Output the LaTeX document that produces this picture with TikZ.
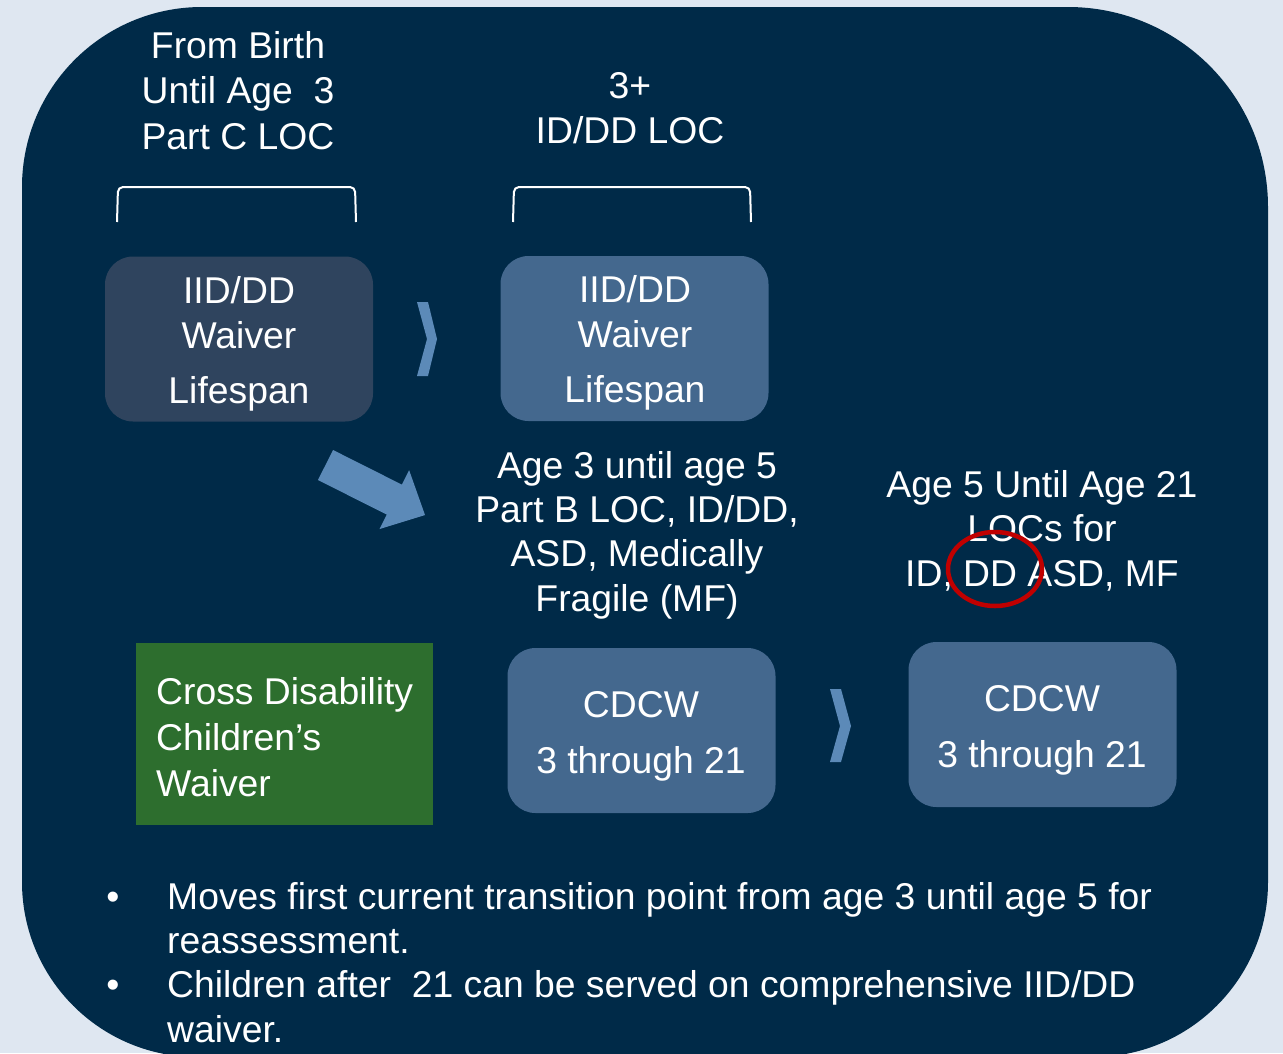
\documentclass[tikz,border=0pt]{standalone}
\usepackage{fontspec}
\setmainfont{Liberation Sans}
\usetikzlibrary{shapes.geometric}

\definecolor{pagebg}{RGB}{223,231,241}
\definecolor{navy}{RGB}{0,42,72}
\definecolor{slate}{RGB}{47,68,94}
\definecolor{steel}{RGB}{68,104,142}
\definecolor{chev}{RGB}{92,138,184}
\definecolor{leaf}{RGB}{45,110,46}
\definecolor{markred}{RGB}{192,0,0}

\begin{document}
\begin{tikzpicture}[x=1pt,y=-1pt,
  lbl/.style={text=white, font=\fontsize{37.3}{44}\selectfont, anchor=base, inner sep=0pt},
  lblw/.style={lbl, anchor=base west},
  box/.style={rounded corners=28pt, minimum width=268pt, minimum height=165pt, inner sep=0pt},
  chevron/.style={fill=chev, draw=none},
  bracketline/.style={draw=white, line width=2pt, rounded corners=5pt}]

\useasboundingbox (0,0) rectangle (1283,1053);
\fill[pagebg] (0,0) rectangle (1283,1053);

% dark panel with large rounded corners
\fill[navy] (22,187) arc[start angle=180,end angle=270,radius=180]
  -- (1068,7) arc[start angle=270,end angle=360,radius=200]
  -- (1268,882) arc[start angle=0,end angle=90,radius=175]
  -- (197,1057) arc[start angle=90,end angle=180,radius=175] -- cycle;

% headings above the brackets
\node[lbl] (birthA) at (238,58) {From Birth};
\node[lbl] (birthB) at (238,103) {Until Age\ \ 3};
\node[lbl] (birthC) at (238,149) {Part C LOC};
\node[lbl] (threeA) at (630,98) {3+};
\node[lbl] (threeB) at (630,143) {ID/DD LOC};

% brackets
\coordinate (brA1) at (117,222); \coordinate (brA2) at (356,222);
\coordinate (brB1) at (513,222); \coordinate (brB2) at (751,222);
\draw[bracketline] (brA1) -- (118,187) -- (355,187) -- (brA2);
\draw[bracketline] (brB1) -- (514,187) -- (750,187) -- (brB2);

% lifespan waiver boxes
\node[box, fill=slate] (waiverA) at (239,339) {};
\node[box, fill=steel] (waiverB) at (634.5,338.5) {};
\node[lbl] (waiverAa) at (239,303) {IID/DD};
\node[lbl] (waiverAb) at (239,348) {Waiver};
\node[lbl] (waiverAc) at (239,403) {Lifespan};
\node[lbl] (waiverBa) at (635,302) {IID/DD};
\node[lbl] (waiverBb) at (635,347) {Waiver};
\node[lbl] (waiverBc) at (635,402) {Lifespan};

% chevron between the lifespan boxes
\fill[chevron] (417,302) -- (428,302) -- (437,339) -- (428,376) -- (417,376) -- (427,339) -- cycle;

% block arrow
\begin{scope}[shift={(325.5,465)}, rotate=-26.7]
  \fill[chev] (0,-16.8) -- (77,-16.8) -- (77,-33) -- (111.4,0) -- (77,33) -- (77,16.8) -- (0,16.8) -- cycle;
\end{scope}

% age bands
\node[lbl] (midA) at (637,478) {Age 3 until age 5};
\node[lbl] (midB) at (637,522) {Part B LOC, ID/DD,};
\node[lbl] (midC) at (637,566) {ASD, Medically};
\node[lbl] (midD) at (637,611) {Fragile (MF)};
\node[lbl] (rgtA) at (1042,497) {Age 5 Until Age 21};
\node[lbl] (rgtB) at (1042,541) {LOCs for};
\node[lbl] (rgtC) at (1042,586) {ID, DD ASD, MF};

% red ring around DD
\node[draw=markred, line width=4.5pt, ellipse, minimum width=94pt, minimum height=74pt, inner sep=0pt] (ddring) at (995,569) {};

% children's waiver boxes
\node[fill=leaf, minimum width=297pt, minimum height=182pt, inner sep=0pt] (cdcwGreen) at (284.5,734) {};
\node[lblw] (greenA) at (156,704) {Cross Disability};
\node[lblw] (greenB) at (156,750) {Children’s};
\node[lblw] (greenC) at (156,796) {Waiver};

\node[box, fill=steel] (cdcwA) at (641.5,730.5) {};
\node[box, fill=steel] (cdcwB) at (1042.5,724.5) {};
\node[lbl] (cdcwAa) at (641,717) {CDCW};
\node[lbl] (cdcwAb) at (641,773) {3 through 21};
\node[lbl] (cdcwBa) at (1042,711) {CDCW};
\node[lbl] (cdcwBb) at (1042,767) {3 through 21};

% chevron between the CDCW boxes
\fill[chevron] (830,689) -- (841,689) -- (851,726) -- (841,762) -- (830,762) -- (840,726) -- cycle;

% bullet notes
\node[lbl] (dotA) at (113,909) {•};
\node[lbl] (dotB) at (113,997) {•};
\node[lblw] (noteA) at (167,909) {Moves first current transition point from age 3 until age 5 for};
\node[lblw] (noteB) at (167,953) {reassessment.};
\node[lblw] (noteC) at (167,997) {Children after\ \ 21 can be served on comprehensive IID/DD};
\node[lblw] (noteD) at (167,1042) {waiver.};
\end{tikzpicture}
\end{document}
